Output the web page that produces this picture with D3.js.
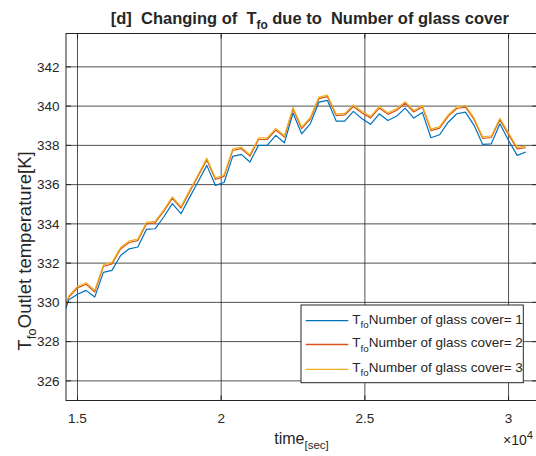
<!DOCTYPE html>
<html><head><meta charset="utf-8">
<script src="https://cdn.jsdelivr.net/npm/d3@7"></script>
<style>
body{margin:0;background:#fff}
text{font-family:"Liberation Sans",Arial,Helvetica,sans-serif;fill:#262626;white-space:pre}
</style>
</head><body>
<svg id="chart" width="536" height="456"></svg>
<script>
// ---- data ----
const times = [14400, 14700, 15000, 15300, 15600, 15900, 16200, 16500, 16800, 17100, 17400,
  17700, 18000, 18300, 18600, 18900, 19200, 19500, 19800, 20100, 20400,
  20700, 21000, 21300, 21600, 21900, 22200, 22500, 22800, 23100, 23400,
  23700, 24000, 24300, 24600, 24900, 25200, 25500, 25800, 26100, 26400,
  26700, 27000, 27300, 27600, 27900, 28200, 28500, 28800, 29100, 29400,
  29700, 30000, 30300, 30600];
const tfoCover1 = [328.90, 330.13, 330.41, 330.61, 330.27, 331.53, 331.63, 332.39, 332.73, 332.82, 333.72,
  333.75, 334.35, 335.03, 334.52, 335.35, 336.16, 336.98, 335.96, 336.11, 337.44,
  337.54, 337.15, 338.00, 338.00, 338.51, 338.13, 339.65, 338.59, 339.10, 340.20,
  340.29, 339.24, 339.24, 339.73, 339.36, 339.07, 339.61, 339.27, 339.48, 339.90,
  339.39, 339.68, 338.39, 338.54, 339.18, 339.61, 339.69, 339.02, 338.05, 338.08,
  339.10, 338.25, 337.49, 337.66];
const tfoCover2 = [329.16, 330.27, 330.74, 330.92, 330.53, 331.83, 331.96, 332.72, 333.05, 333.15, 334.00,
  334.05, 334.63, 335.30, 334.80, 335.63, 336.44, 337.26, 336.26, 336.42, 337.74,
  337.83, 337.45, 338.30, 338.30, 338.78, 338.42, 339.85, 338.85, 339.34, 340.38,
  340.48, 339.52, 339.55, 339.98, 339.65, 339.40, 339.90, 339.58, 339.78, 340.15,
  339.70, 339.95, 338.75, 338.88, 339.48, 339.88, 339.95, 339.32, 338.35, 338.40,
  339.30, 338.55, 337.82, 337.88];
const tfoCover3 = [329.22, 330.33, 330.82, 331.00, 330.61, 331.91, 332.04, 332.80, 333.13, 333.23, 334.08,
  334.13, 334.71, 335.38, 334.88, 335.71, 336.52, 337.35, 336.34, 336.50, 337.82,
  337.91, 337.53, 338.38, 338.38, 338.86, 338.50, 339.93, 338.93, 339.42, 340.46,
  340.56, 339.60, 339.63, 340.06, 339.73, 339.48, 339.98, 339.66, 339.86, 340.23,
  339.78, 340.03, 338.83, 338.96, 339.56, 339.96, 340.03, 339.40, 338.43, 338.48,
  339.38, 338.63, 337.90, 337.96];
const seriesLabels = ["Number of glass cover= 1", "Number of glass cover= 2", "Number of glass cover= 3"];
const seriesColors = ["#0072BD", "#D95319", "#EDB120"];
const xTicks = [15000, 20000, 25000, 30000];
const xTickLabels = ["1.5", "2", "2.5", "3"];
const yTicks = [326, 328, 330, 332, 334, 336, 338, 340, 342];

// ---- layout ----
const L = 66, R = 537.3, T = 33.5, B = 400.5;
const svg = d3.select("#chart");
const x = d3.scaleLinear().domain([14600, 31000]).range([L, R]);
const y = d3.scaleLinear().domain([325, 343.7]).range([B, T]);

svg.append("rect").attr("x", 0).attr("y", 0).attr("width", 536).attr("height", 456).attr("fill", "#fff");
svg.append("rect").attr("x", L).attr("y", T).attr("width", R - L).attr("height", B - T).attr("fill", "#fff");

// rich text helper (subscripts / superscripts)
function rich(sel, parts, size) {
  let shift = 0;
  parts.forEach(p => {
    const s = p.sub ? size * 0.72 : p.sup ? size * 0.8 : size;
    const target = p.sub ? size * 0.32 : p.sup ? -size * 0.45 : 0;
    sel.append("tspan").attr("font-size", s).attr("dy", target - shift).text(p.t);
    shift = target;
  });
}

// grid
const grid = svg.append("g").attr("stroke", "#262626").attr("stroke-opacity", 0.8).attr("stroke-width", 1);
grid.selectAll("line.gx").data(xTicks).join("line")
  .attr("x1", d => x(d)).attr("x2", d => x(d)).attr("y1", T).attr("y2", B);
grid.selectAll("line.gy").data(yTicks).join("line")
  .attr("y1", d => y(d)).attr("y2", d => y(d)).attr("x1", L).attr("x2", R);

// lines
svg.append("clipPath").attr("id", "clip").append("rect")
  .attr("x", L).attr("y", T).attr("width", R - L).attr("height", B - T);
const line = d3.line().x((d, i) => x(times[i])).y(d => y(d));
const allSeries = [tfoCover1, tfoCover2, tfoCover3];
svg.append("g").attr("clip-path", "url(#clip)").selectAll("path").data(allSeries).join("path")
  .attr("d", d => line(d)).attr("fill", "none")
  .attr("stroke", (d, i) => seriesColors[i]).attr("stroke-width", 1.2)
  .attr("stroke-linejoin", "round");

// axes box + ticks (inward)
const ax = svg.append("g").attr("stroke", "#262626").attr("stroke-width", 1).attr("fill", "none");
ax.append("rect").attr("x", L).attr("y", T).attr("width", R - L).attr("height", B - T);
const tk = 5;
xTicks.forEach(v => {
  ax.append("line").attr("x1", x(v)).attr("x2", x(v)).attr("y1", B).attr("y2", B - tk);
  ax.append("line").attr("x1", x(v)).attr("x2", x(v)).attr("y1", T).attr("y2", T + tk);
});
yTicks.forEach(v => {
  ax.append("line").attr("y1", y(v)).attr("y2", y(v)).attr("x1", L).attr("x2", L + tk);
  ax.append("line").attr("y1", y(v)).attr("y2", y(v)).attr("x1", R).attr("x2", R - tk);
});

// tick labels
svg.append("g").selectAll("text").data(xTicks).join("text")
  .attr("x", d => x(d)).attr("y", 423).attr("text-anchor", "middle")
  .attr("font-size", 13.5).text((d, i) => xTickLabels[i]);
svg.append("g").selectAll("text").data(yTicks).join("text")
  .attr("x", 59.5).attr("y", d => y(d) + 4.8).attr("text-anchor", "end")
  .attr("font-size", 13.5).text(d => d);

// exponent
rich(svg.append("text").attr("x", 503).attr("y", 445).attr("font-size", 13.5),
  [{t: "\u00d710"}, {t: "4", sup: true}], 14);

// x label
rich(svg.append("text").attr("x", 301.5).attr("y", 444).attr("text-anchor", "middle"),
  [{t: "time"}, {t: "[sec]", sub: true}], 16);

// y label
rich(svg.append("text").attr("transform", "translate(30.5,251) rotate(-90)").attr("text-anchor", "middle"),
  [{t: "T"}, {t: "fo", sub: true}, {t: "Outlet temperature[K]"}], 18.5);

// title
rich(svg.append("text").attr("x", 309.8).attr("y", 24).attr("text-anchor", "middle").attr("font-weight", "bold"),
  [{t: "[d]  Changing of  T"}, {t: "fo", sub: true}, {t: " due to  Number of glass cover"}], 16.5);

// legend
const lg = svg.append("g");
lg.append("rect").attr("x", 301).attr("y", 305).attr("width", 222.3).attr("height", 77.7)
  .attr("fill", "#fff").attr("stroke", "#262626").attr("stroke-width", 1);
const rowsY = [320.7, 344.5, 369.3];
seriesLabels.forEach((lab, i) => {
  lg.append("line").attr("x1", 305.7).attr("x2", 348.3).attr("y1", rowsY[i]).attr("y2", rowsY[i])
    .attr("stroke", seriesColors[i]).attr("stroke-width", 1.3);
  rich(lg.append("text").attr("x", 352.3).attr("y", rowsY[i] + 2.8),
    [{t: "T"}, {t: "fo", sub: true}, {t: lab}], 13.5);
});
</script>
</body></html>
